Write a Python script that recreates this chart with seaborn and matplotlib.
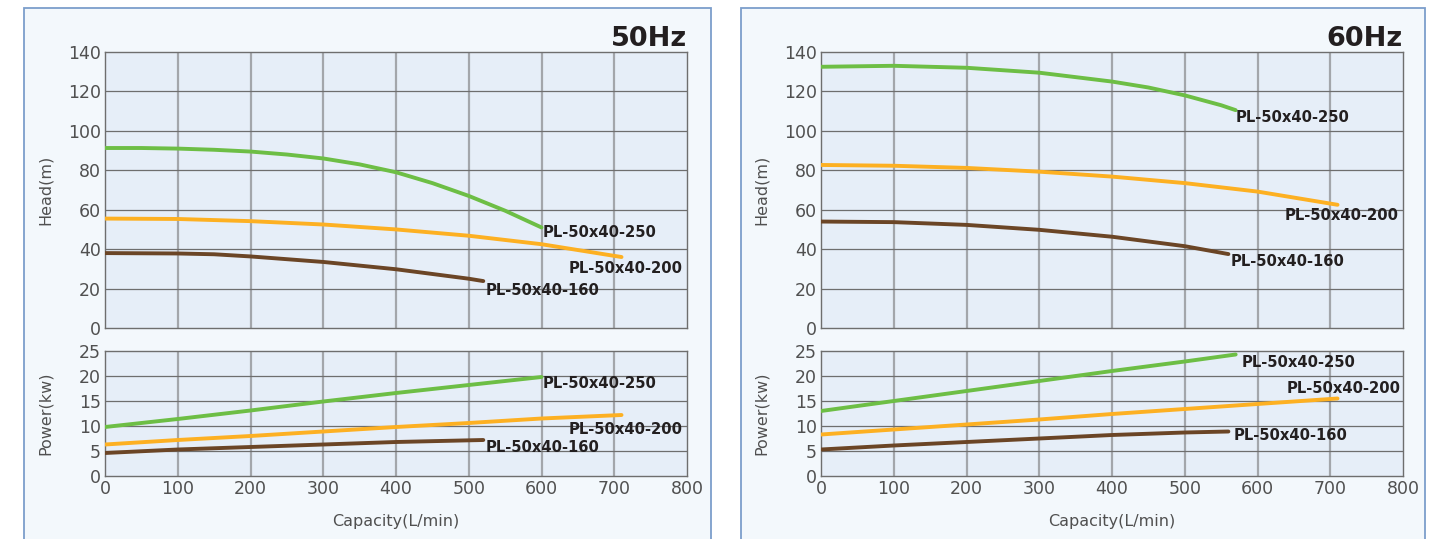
import numpy as np
import pandas as pd
import matplotlib
matplotlib.use("Agg")
import matplotlib.pyplot as plt
import seaborn as sns
from matplotlib.patches import Rectangle

# ---- data ----
models = ["PL-50x40-250", "PL-50x40-200", "PL-50x40-160"]

# 50Hz head curves
q50_250 = [0, 50, 100, 150, 200, 250, 300, 350, 400, 450, 500, 550, 600]
h50_250 = [91.3, 91.3, 91.0, 90.4, 89.5, 88.0, 86.0, 83.0, 79.0, 73.5, 67.0, 59.5, 51.0]
q50_200 = [0, 100, 200, 300, 400, 500, 600, 710]
h50_200 = [55.5, 55.3, 54.2, 52.5, 50.0, 46.8, 42.5, 36.0]
q50_160 = [0, 100, 150, 200, 300, 400, 500, 520]
h50_160 = [38.0, 37.8, 37.4, 36.3, 33.5, 29.8, 25.0, 23.8]

# 50Hz power curves
pq50_250 = [0, 100, 200, 300, 400, 500, 600]
p50_250 = [9.8, 11.4, 13.1, 14.9, 16.6, 18.2, 19.8]
pq50_200 = [0, 100, 200, 300, 400, 500, 600, 710]
p50_200 = [6.3, 7.2, 8.0, 8.9, 9.8, 10.6, 11.5, 12.2]
pq50_160 = [0, 100, 200, 300, 400, 520]
p50_160 = [4.6, 5.3, 5.8, 6.3, 6.8, 7.2]

# 60Hz head curves
q60_250 = [0, 100, 200, 300, 400, 450, 500, 550, 570]
h60_250 = [132.5, 133.0, 132.0, 129.5, 125.0, 122.0, 118.0, 113.0, 110.5]
q60_200 = [0, 100, 200, 300, 400, 500, 600, 710]
h60_200 = [82.7, 82.3, 81.2, 79.3, 76.8, 73.5, 69.2, 62.5]
q60_160 = [0, 100, 200, 300, 400, 500, 560]
h60_160 = [54.0, 53.7, 52.3, 49.8, 46.3, 41.5, 37.5]

# 60Hz power curves
pq60_250 = [0, 100, 200, 300, 400, 500, 570]
p60_250 = [13.0, 15.0, 17.0, 19.0, 21.0, 22.9, 24.3]
pq60_200 = [0, 100, 200, 300, 400, 500, 600, 710]
p60_200 = [8.3, 9.3, 10.3, 11.3, 12.4, 13.4, 14.4, 15.5]
pq60_160 = [0, 100, 200, 300, 400, 500, 560]
p60_160 = [5.3, 6.1, 6.8, 7.5, 8.2, 8.7, 8.9]

x_ticks = [0, 100, 200, 300, 400, 500, 600, 700, 800]
head_ticks = [0, 20, 40, 60, 80, 100, 120, 140]
power_ticks = [0, 5, 10, 15, 20, 25]

colors = {"PL-50x40-250": "#6dbe45", "PL-50x40-200": "#fdb022", "PL-50x40-160": "#6b4526"}

# label offsets (pixels) from the end of each curve
offsets = {
    ("50", "head"): {"PL-50x40-250": (1.5, -5), "PL-50x40-200": (-53, -11), "PL-50x40-160": (2, -9)},
    ("50", "power"): {"PL-50x40-250": (1.5, -6), "PL-50x40-200": (-53, -15), "PL-50x40-160": (2, -8)},
    ("60", "head"): {"PL-50x40-250": (0, -7), "PL-50x40-200": (-53, -11), "PL-50x40-160": (2, -7)},
    ("60", "power"): {"PL-50x40-250": (6, -8), "PL-50x40-200": (-51, 10), "PL-50x40-160": (5, -4)},
}

head = {
    "50": [(q50_250, h50_250), (q50_200, h50_200), (q50_160, h50_160)],
    "60": [(q60_250, h60_250), (q60_200, h60_200), (q60_160, h60_160)],
}
power = {
    "50": [(pq50_250, p50_250), (pq50_200, p50_200), (pq50_160, p50_160)],
    "60": [(pq60_250, p60_250), (pq60_200, p60_200), (pq60_160, p60_160)],
}

sns.set_style("white")
plt.rcParams["font.family"] = ["DejaVu Sans"]

W, H = 1445, 539
fig = plt.figure(figsize=(W / 100, H / 100), dpi=100)
fig.patch.set_facecolor("white")

panel_bg = "#f3f8fc"
axes_bg = "#e6eef8"
tick_color = "#505050"


def px(x, y, w, h):
    # pixel box (top-left origin) to figure fraction
    return [x / W, 1 - (y + h) / H, w / W, h / H]


def style_axes(ax, ylim, yticks, show_x):
    ax.set_facecolor(axes_bg)
    ax.set_xlim(0, 800)
    ax.set_ylim(*ylim)
    ax.set_xticks(x_ticks)
    ax.set_yticks(yticks)
    for g in x_ticks[1:-1]:
        ax.axvline(g, color="#a3a6ab", lw=1.6, zorder=1)
    for g in yticks[1:-1]:
        ax.axhline(g, color="#6e6e6e", lw=0.9, zorder=1)
    for s in ax.spines.values():
        s.set_color("#6e6e6e")
        s.set_linewidth(1.0)
    ax.tick_params(length=0, labelsize=12.5, colors=tick_color, pad=3)
    if not show_x:
        ax.set_xticklabels([])
    ax.set_xlabel("")
    ax.set_ylabel("")


for freq, left_px, box_left, box_right in [("50", 105, 24, 711), ("60", 821, 741, 1425)]:
    fig.patches.append(Rectangle((box_left / W, -0.05), (box_right - box_left) / W, 1 - 8 / H + 0.05,
                                 transform=fig.transFigure, facecolor=panel_bg,
                                 edgecolor="#7c9ecb", lw=1.3, zorder=-5))

    ax_h = fig.add_axes(px(left_px, 52, 582, 276))
    ax_p = fig.add_axes(px(left_px, 351, 582, 125))

    for ax, curves, kind in [(ax_h, head[freq], "head"), (ax_p, power[freq], "power")]:
        for name, (xs, ys) in zip(models, curves):
            df = pd.DataFrame({"q": xs, "v": ys})
            sns.lineplot(data=df, x="q", y="v", ax=ax, color=colors[name], lw=2.8,
                         zorder=3, estimator=None, sort=True)
            dx, dy = offsets[(freq, kind)][name]
            ax.annotate(name, xy=(xs[-1], ys[-1]), xytext=(dx * 0.72, dy * 0.72),
                        textcoords="offset points", ha="left", va="center",
                        fontsize=10.6, fontweight="bold", color="#231f20", zorder=4)

    style_axes(ax_h, (0, 140), head_ticks, False)
    style_axes(ax_p, (0, 25), power_ticks, True)

    ax_h.set_ylabel("Head(m)", fontsize=11.5, color=tick_color)
    ax_p.set_ylabel("Power(kw)", fontsize=11.5, color=tick_color)
    ax_h.yaxis.set_label_coords(-52 / 582, 0.5)
    ax_p.yaxis.set_label_coords(-52 / 582, 0.5)
    ax_p.set_xlabel("Capacity(L/min)", fontsize=11.5, color=tick_color)
    ax_p.xaxis.set_label_coords(0.5, -38 / 125)

    ax_h.text(1.0, 1 + 6 / 276, freq + "Hz", transform=ax_h.transAxes, ha="right", va="baseline",
              fontsize=19.5, fontweight="bold", color="#231f20")

fig.savefig("out.png", dpi=100, facecolor="white")
